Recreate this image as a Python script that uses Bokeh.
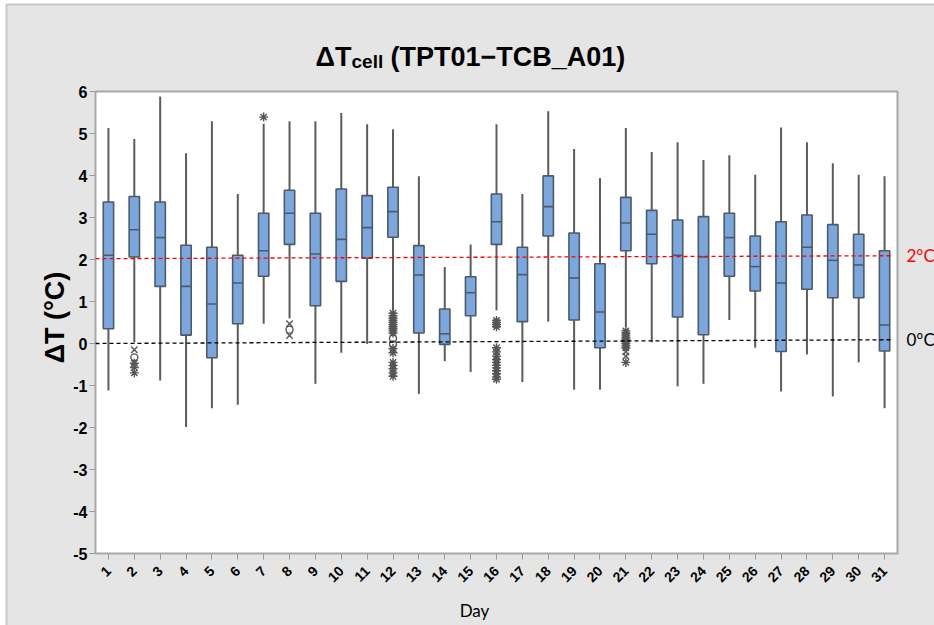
import math
import numpy as np
from bokeh.plotting import figure
from bokeh.models import Range1d, FixedTicker, Label, ColumnDataSource
from bokeh.embed import file_html
from bokeh.resources import INLINE

# ---------------- data ----------------
days = [1, 2, 3, 4, 5, 6, 7, 8, 9, 10, 11, 12, 13, 14, 15, 16,
        17, 18, 19, 20, 21, 22, 23, 24, 25, 26, 27, 28, 29, 30, 31]

whisker_hi = [5.13, 4.87, 5.88, 4.53, 5.29, 3.56, 5.23, 5.29, 5.29, 5.49, 5.22,
              5.10, 3.98, 1.82, 2.36, 5.22, 3.56, 5.53, 4.63, 3.94, 5.13, 4.56,
              4.79, 4.37, 4.48, 4.02, 5.14, 4.79, 4.29, 4.02, 3.98]
q3 = [3.37, 3.50, 3.37, 2.34, 2.29, 2.10, 3.10, 3.65, 3.10, 3.68, 3.52,
      3.72, 2.33, 0.82, 1.59, 3.56, 2.29, 3.99, 2.63, 1.90, 3.48, 3.17,
      2.94, 3.02, 3.10, 2.56, 2.90, 3.06, 2.83, 2.60, 2.21]
median = [2.10, 2.71, 2.52, 1.36, 0.94, 1.44, 2.21, 3.10, 2.13, 2.48, 2.76,
          3.14, 1.63, 0.23, 1.21, 2.90, 1.64, 3.26, 1.56, 0.75, 2.87, 2.60,
          2.10, 2.06, 2.52, 1.83, 1.44, 2.29, 1.98, 1.87, 0.44]
q1 = [0.35, 2.06, 1.36, 0.20, -0.34, 0.47, 1.60, 2.36, 0.90, 1.48, 2.03,
      2.53, 0.25, -0.02, 0.66, 2.36, 0.52, 2.56, 0.56, -0.10, 2.21, 1.90,
      0.63, 0.21, 1.60, 1.25, -0.19, 1.29, 1.09, 1.09, -0.18]
whisker_lo = [-1.12, 0.03, -0.88, -1.99, -1.54, -1.46, 0.47, 0.60, -0.96, -0.22, -0.01,
              0.79, -1.20, -0.42, -0.68, 0.79, -0.92, 0.52, -1.10, -1.10, 0.39, 0.03,
              -1.02, -0.96, 0.56, -0.10, -1.14, -0.26, -1.26, -0.45, -1.54]

out_day = ([2] * 5 + [7] + [8] * 3 + [12] * 19 + [16] * 15 + [21] * 12)
out_val = ([-0.15, -0.33, -0.47, -0.57, -0.70] +
           [5.39] +
           [0.47, 0.33, 0.19] +
           [0.72, 0.66, 0.60, 0.55, 0.50, 0.45, 0.40, 0.35, 0.30, 0.25,
            0.12, -0.02, -0.12, -0.22, -0.45, -0.52, -0.60, -0.70, -0.78] +
           [0.55, 0.50, 0.45, 0.40,
            -0.10, -0.20, -0.30, -0.38, -0.45, -0.52, -0.58, -0.65, -0.72, -0.80, -0.85] +
           [0.30, 0.25, 0.20, 0.15, 0.10, 0.05, 0.00, -0.05, -0.10, -0.20, -0.30, -0.45])
out_marker = (["x", "circle", "asterisk", "asterisk", "asterisk"] +
              ["asterisk"] +
              ["x", "circle", "x"] +
              ["asterisk"] * 10 + ["circle", "circle"] + ["asterisk"] * 7 +
              ["asterisk"] * 15 +
              ["asterisk"] * 9 + ["x", "x", "asterisk"])

ref_x0 = [0.5, 0.5]
ref_x1 = [31.33, 31.33]
ref_y0 = [2.02, 0.00]
ref_y1 = [2.09, 0.09]
ref_colors = ["#ff0000", "#000000"]
ref_labels = ["2°C", "0°C"]

y_ticks = [-5, -4, -3, -2, -1, 0, 1, 2, 3, 4, 5, 6]
y_tick_labels = ["-5", "-4", "-3", "-2", "-1", "0", "1", "2", "3", "4", "5", "6"]
x_lim = (0.5, 31.5)
y_lim = (-5, 6)

# ---------------- geometry (pixels) ----------------
W, H = 934, 625
FL, FT, FR, FB = 95, 91, 897, 553          # plot-area box on the canvas
ux = (FR - FL) / (x_lim[1] - x_lim[0])
uy = (FB - FT) / (y_lim[1] - y_lim[0])
x_start = x_lim[0] - FL / ux
x_end = x_lim[1] + (W - FR) / ux
y_end = y_lim[1] + FT / uy
y_start = y_lim[0] - (H - FB) / uy


def px2x(px):
    return x_lim[0] + (px - FL) / ux


def py2y(py):
    return y_lim[1] - (py - FT) / uy


# ---------------- figure ----------------
p = figure(width=W, height=H, x_range=Range1d(x_start, x_end), y_range=Range1d(y_start, y_end),
           output_backend="svg", toolbar_location=None,
           min_border_left=0, min_border_right=0, min_border_top=0, min_border_bottom=0,
           background_fill_color="white", border_fill_color="white",
           outline_line_color=None)
p.grid.visible = False

# outer grey panel
p.quad(left=[px2x(6)], right=[px2x(W + 20)], top=[py2y(4)], bottom=[py2y(H + 20)],
       fill_color="#e5e5e5", line_color="#c8c8c8", line_width=2)
# white plot area
p.quad(left=[x_lim[0]], right=[x_lim[1]], bottom=[y_lim[0]], top=[y_lim[1]],
       fill_color="white", line_color="#a8a8a8", line_width=2)

for ax in (p.xaxis, p.yaxis):
    ax.axis_line_color = None
    ax.major_tick_line_color = "#9a9a9a"
    ax.major_tick_in = 0
    ax.major_tick_out = 6
    ax.minor_tick_line_color = None
    ax.major_label_text_font = "Liberation Sans"
    ax.major_label_text_font_style = "bold"
    ax.major_label_text_color = "black"

p.xaxis.fixed_location = y_lim[0]
p.xaxis.bounds = x_lim
p.xaxis.ticker = FixedTicker(ticks=days)
p.xaxis.major_label_orientation = math.pi / 4
p.xaxis.major_label_text_font_size = "14px"
p.xaxis.major_label_standoff = 9

p.yaxis.fixed_location = x_lim[0]
p.yaxis.bounds = y_lim
p.yaxis.ticker = FixedTicker(ticks=y_ticks)
p.yaxis.major_label_overrides = {t: s for t, s in zip(y_ticks, y_tick_labels)}
p.yaxis.major_label_text_font_size = "16px"
p.yaxis.major_label_standoff = 2

# whiskers
p.segment(x0=days, x1=days, y0=whisker_lo, y1=whisker_hi,
          line_color="#5c5c5c", line_width=2)

# boxes
p.vbar(x=days, width=0.4, top=q3, bottom=q1,
       fill_color="#7ba7dc", line_color="#4f5a69", line_width=1.6)

d = np.array(days, dtype=float)
p.segment(x0=d - 0.2, x1=d + 0.2, y0=median, y1=median,
          line_color="#4f5a69", line_width=1.6)

# outliers
sizes = [7 if m == "circle" else 9 for m in out_marker]
src = ColumnDataSource(dict(x=out_day, y=out_val, m=out_marker, s=sizes))
p.scatter(x="x", y="y", marker="m", size="s", source=src,
          line_color="#555555", fill_color=None, line_width=1.4)

# reference lines
p.segment(x0=ref_x0, x1=ref_x1, y0=ref_y0, y1=ref_y1,
          line_color=ref_colors, line_dash="4 3", line_width=1.3)

for lab, yv, col in zip(ref_labels, ref_y1, ref_colors):
    p.add_layout(Label(x=x_lim[1], x_offset=9, y=yv, text=lab, text_color=col,
                       text_font="Lato", text_font_size="17px",
                       text_baseline="middle", text_align="left"))

# title pieces
TITLE_FONT = "Liberation Sans"
p.add_layout(Label(x=px2x(315), y=py2y(56.7), text="ΔT", text_color="black",
                   text_font=TITLE_FONT, text_font_style="bold",
                   text_font_size="27px", text_baseline="alphabetic"))
p.add_layout(Label(x=px2x(351), y=py2y(61), text="cell", text_color="black",
                   text_font=TITLE_FONT, text_font_style="bold",
                   text_font_size="19px", text_baseline="alphabetic"))
p.add_layout(Label(x=px2x(390), y=py2y(56.7), text="(TPT01−TCB_A01)", text_color="black",
                   text_font=TITLE_FONT, text_font_style="bold",
                   text_font_size="27px", text_baseline="alphabetic"))

# y axis title
p.add_layout(Label(x=px2x(54), y=py2y(317), text="ΔT (°C)", angle=math.pi / 2,
                   text_color="black", text_font=TITLE_FONT, text_font_style="bold",
                   text_font_size="27px", text_align="center", text_baseline="alphabetic"))

# x axis title
p.add_layout(Label(x=px2x(474), y=py2y(610), text="Day", text_color="black",
                   text_font="Lato", text_font_size="17px",
                   text_align="center", text_baseline="alphabetic"))

open("out.html", "w").write(file_html(p, INLINE))
